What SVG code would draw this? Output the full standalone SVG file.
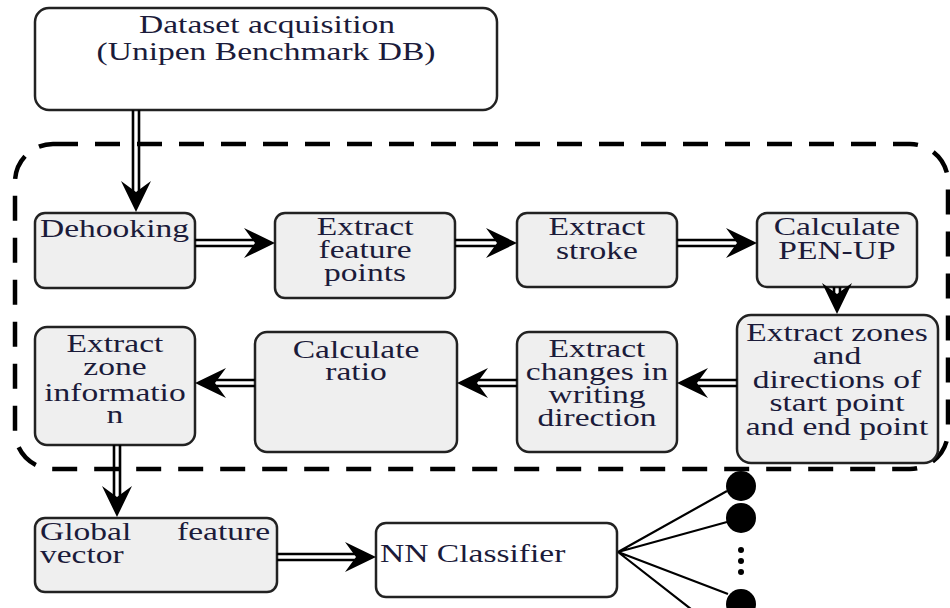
<svg xmlns="http://www.w3.org/2000/svg" width="950" height="608" viewBox="0 0 950 608">
<style>
.box{fill:#efefef;stroke:#222;stroke-width:2.5}
.wbox{fill:#fff;stroke:#222;stroke-width:2.5}
.t{font-family:"Liberation Serif","Times New Roman",serif;font-size:26px;fill:#1b1b3a}
.m{text-anchor:middle}
.dl{fill:none;stroke:#000;stroke-width:2.6}
.ah{fill:#000}
.ln{stroke:#000;stroke-width:2.2;fill:none}
</style>
<defs>
<path id="ah" d="M0,0 L-31,-15 L-20,0 L-31,15 Z"/>
</defs>
<rect x="15" y="144" width="933" height="325" rx="38" ry="38" fill="none" stroke="#000" stroke-width="4.5" stroke-dasharray="25 17"/>
<g id="n-dataset"><rect class="wbox" x="35" y="8" width="462" height="102" rx="14"/>
<g transform="scale(1.29 1)"><text class="t m"><tspan x="207" y="33">Dataset acquisition</tspan><tspan x="206.2" y="60">(Unipen Benchmark DB)</tspan></text></g></g>
<g id="n-dehook"><rect class="box" x="35" y="213" width="160" height="75" rx="10"/>
<g transform="scale(1.29 1)"><text class="t" x="31" y="237">Dehooking</text></g></g>
<g id="n-efp"><rect class="box" x="275" y="213" width="180" height="85" rx="10"/>
<g transform="scale(1.29 1)"><text class="t m"><tspan x="283" y="235">Extract</tspan><tspan x="283" y="258">feature</tspan><tspan x="283" y="281">points</tspan></text></g></g>
<g id="n-stroke"><rect class="box" x="517" y="213" width="160" height="74" rx="10"/>
<g transform="scale(1.29 1)"><text class="t m"><tspan x="462.8" y="235">Extract</tspan><tspan x="462.8" y="259">stroke</tspan></text></g></g>
<g id="n-penup"><rect class="box" x="757" y="213" width="160" height="74" rx="10"/>
<g transform="scale(1.29 1)"><text class="t m"><tspan x="648.8" y="235">Calculate</tspan><tspan x="648.8" y="259">PEN-UP</tspan></text></g></g>
<g id="n-zones"><rect class="box" x="737" y="315" width="201" height="148" rx="14"/>
<g transform="scale(1.29 1)"><text class="t m"><tspan x="648.8" y="341">Extract zones</tspan><tspan x="648.8" y="364">and</tspan><tspan x="648.8" y="388">directions of</tspan><tspan x="648.8" y="411">start point</tspan><tspan x="648.8" y="435">and end point</tspan></text></g></g>
<g id="n-changes"><rect class="box" x="517" y="332" width="160" height="120" rx="12"/>
<g transform="scale(1.29 1)"><text class="t m"><tspan x="462.8" y="357">Extract</tspan><tspan x="462.8" y="380">changes in</tspan><tspan x="462.8" y="403">writing</tspan><tspan x="462.8" y="426">direction</tspan></text></g></g>
<g id="n-ratio"><rect class="box" x="255" y="332" width="202" height="120" rx="12"/>
<g transform="scale(1.29 1)"><text class="t m"><tspan x="276" y="358">Calculate</tspan><tspan x="276" y="380">ratio</tspan></text></g></g>
<g id="n-zoneinfo"><rect class="box" x="35" y="327" width="160" height="118" rx="12"/>
<g transform="scale(1.29 1)"><text class="t m"><tspan x="89.1" y="352">Extract</tspan><tspan x="89.1" y="375">zone</tspan><tspan x="89.1" y="401">informatio</tspan><tspan x="89.1" y="423">n</tspan></text></g></g>
<g id="n-gfv"><rect class="box" x="35" y="518" width="242" height="74" rx="10"/>
<g transform="scale(1.29 1)"><text class="t"><tspan x="31" y="540">Global</tspan><tspan x="137.2" y="540">feature</tspan><tspan x="31" y="563">vector</tspan></text></g></g>
<g id="n-nn"><rect class="wbox" x="376" y="523" width="241" height="74" rx="10"/>
<g transform="scale(1.29 1)"><text class="t" x="294.6" y="562">NN Classifier</text></g></g>
<g id="n-outputs">
<circle cx="741" cy="486" r="15" fill="#000"/>
<circle cx="741" cy="518" r="15" fill="#000"/>
<circle cx="741" cy="604" r="15" fill="#000"/>
<circle cx="741" cy="550" r="3" fill="#000"/>
<circle cx="741" cy="561" r="3" fill="#000"/>
<circle cx="741" cy="572" r="3" fill="#000"/>
</g>
<g id="connectors">
<path class="dl" d="M133,110 V194 M139,110 V194"/><use href="#ah" class="ah" transform="translate(136,212) rotate(90)"/>
<path class="dl" d="M195,240 H256 M195,246 H256"/><use href="#ah" class="ah" transform="translate(275,243)"/>
<path class="dl" d="M455,240 H498 M455,246 H498"/><use href="#ah" class="ah" transform="translate(517,243)"/>
<path class="dl" d="M677,240 H738 M677,246 H738"/><use href="#ah" class="ah" transform="translate(757,243)"/>
<path class="dl" d="M834,287 V296 M840,287 V296"/><use href="#ah" class="ah" transform="translate(837,314) rotate(90)"/>
<path class="dl" d="M737,380 H696 M737,386 H696"/><use href="#ah" class="ah" transform="translate(677,383) rotate(180)"/>
<path class="dl" d="M517,380 H476 M517,386 H476"/><use href="#ah" class="ah" transform="translate(457,383) rotate(180)"/>
<path class="dl" d="M255,380 H214 M255,386 H214"/><use href="#ah" class="ah" transform="translate(195,383) rotate(180)"/>
<path class="dl" d="M114,445 V499 M120,445 V499"/><use href="#ah" class="ah" transform="translate(117,517) rotate(90)"/>
<path class="dl" d="M277,554 H357 M277,560 H357"/><use href="#ah" class="ah" transform="translate(376,557)"/>
<path class="ln" d="M618,552 L727,491 M618,552 L727,522 M618,552 L728,594 M618,552 L705,620"/>
</g>
</svg>
